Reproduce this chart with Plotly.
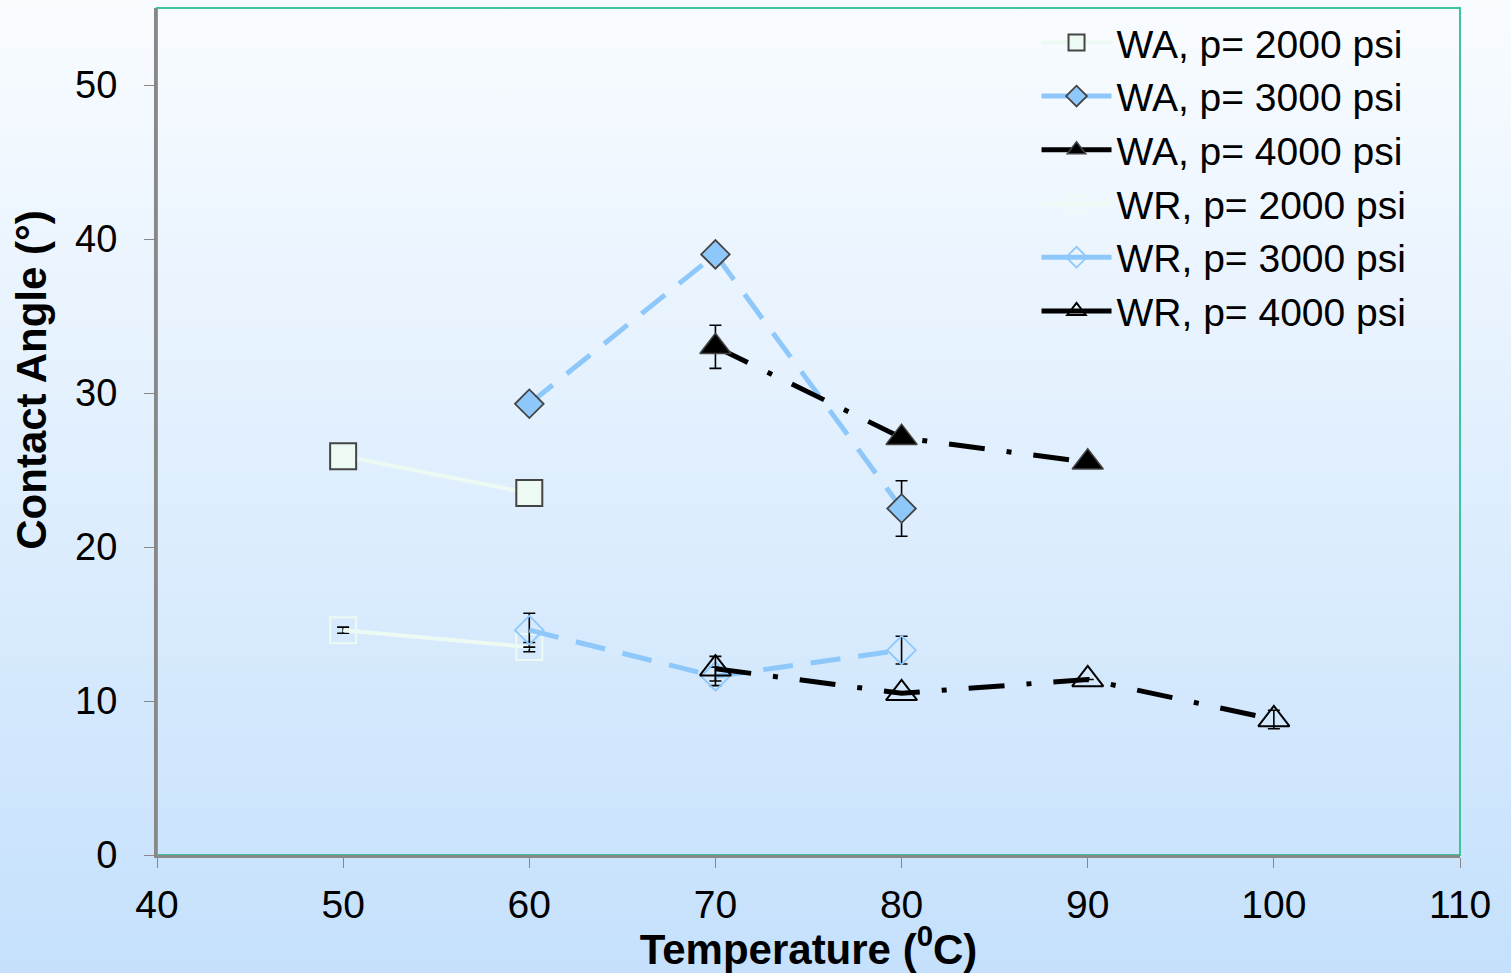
import base64

import plotly.graph_objects as go

# temperatures (degC) and contact angles (deg)
wa_2000_t = [50, 60]
wa_2000_y = [25.9, 23.5]
wa_2000_err = [0.0, 0.0]

wa_3000_t = [60, 70, 80]
wa_3000_y = [29.3, 39.0, 22.5]
wa_3000_err = [0.0, 0.0, 1.8]

wa_4000_t = [70, 80, 90]
wa_4000_y = [33.0, 27.1, 25.5]
wa_4000_err = [1.4, 0.0, 0.0]

wr_2000_t = [50, 60]
wr_2000_y = [14.6, 13.5]
wr_2000_err = [0.2, 0.3]

wr_3000_t = [60, 70, 80]
wr_3000_y = [14.6, 11.6, 13.3]
wr_3000_err = [1.1, 0.6, 0.9]

wr_4000_t = [70, 80, 90, 100]
wr_4000_y = [12.1, 10.5, 11.4, 8.8]
wr_4000_err = [0.8, 0.0, 0.0, 0.6]

x_ticks = [40, 50, 60, 70, 80, 90, 100, 110]
y_ticks = [0, 10, 20, 30, 40, 50]

PALE = "#ecfaf3"
BLUE = "#8ec8fb"
DASH_BLUE = "30px,18px"
DASH_DOT = "36px,22px,5px,22px"

# vertical gradient background as an inline svg
svg = (
    '<svg xmlns="http://www.w3.org/2000/svg" width="10" height="100" preserveAspectRatio="none">'
    '<defs><linearGradient id="g" x1="0" y1="0" x2="0" y2="1">'
    '<stop offset="0" stop-color="#fbfdff"/><stop offset="1" stop-color="#c2dffc"/>'
    '</linearGradient></defs><rect width="10" height="100" fill="url(#g)"/></svg>'
)
bg_src = "data:image/svg+xml;base64," + base64.b64encode(svg.encode()).decode()

fig = go.Figure()


def add_series(name, t, y, err, color, width, dash, marker):
    fig.add_trace(
        go.Scatter(
            x=t,
            y=y,
            name=name,
            mode="lines+markers",
            line=dict(color=color, width=width, dash=dash),
            marker=marker,
            error_y=dict(type="data", array=err, color="black", thickness=1.6, width=6),
            showlegend=False,
        )
    )
    # legend entry drawn with a solid line sample, like the original
    fig.add_trace(
        go.Scatter(
            x=[None],
            y=[None],
            name=name,
            mode="lines+markers",
            line=dict(color=color, width=width),
            marker=marker,
        )
    )


add_series(
    "WA, p= 2000 psi", wa_2000_t, wa_2000_y, wa_2000_err, PALE, 4, "solid",
    dict(symbol="square", size=26, color=PALE, line=dict(color="#444444", width=2)),
)
add_series(
    "WA, p= 3000 psi", wa_3000_t, wa_3000_y, wa_3000_err, BLUE, 5, DASH_BLUE,
    dict(symbol="diamond", size=22, color=BLUE, line=dict(color="#444444", width=1.8)),
)
add_series(
    "WA, p= 4000 psi", wa_4000_t, wa_4000_y, wa_4000_err, "black", 5, DASH_DOT,
    dict(symbol="triangle-up", size=27, color="black", line=dict(color="#444444", width=1.5)),
)
add_series(
    "WR, p= 2000 psi", wr_2000_t, wr_2000_y, wr_2000_err, PALE, 4, "solid",
    dict(symbol="square-open", size=26, color=PALE, line=dict(width=2)),
)
add_series(
    "WR, p= 3000 psi", wr_3000_t, wr_3000_y, wr_3000_err, BLUE, 5, DASH_BLUE,
    dict(symbol="diamond-open", size=22, color=BLUE, line=dict(width=1.8)),
)
add_series(
    "WR, p= 4000 psi", wr_4000_t, wr_4000_y, wr_4000_err, "black", 5, DASH_DOT,
    dict(symbol="triangle-up-open", size=27, color="black", line=dict(width=2)),
)

fig.update_layout(
    width=1511,
    height=973,
    margin=dict(l=157, r=51, t=8, b=118),
    paper_bgcolor="rgba(0,0,0,0)",
    plot_bgcolor="rgba(0,0,0,0)",
    font=dict(family="Liberation Sans, Arial, sans-serif", color="black"),
    showlegend=True,
    legend=dict(
        x=0.675,
        y=0.997,
        xanchor="left",
        yanchor="top",
        bgcolor="rgba(0,0,0,0)",
        font=dict(size=39),
        itemwidth=70,
        tracegroupgap=0,
    ),
    images=[
        dict(
            source=bg_src,
            xref="paper",
            yref="paper",
            x=-0.2,
            y=1.05,
            sizex=1.3,
            sizey=1.25,
            sizing="stretch",
            xanchor="left",
            yanchor="top",
            layer="below",
        )
    ],
    shapes=[
        dict(
            type="rect",
            xref="paper",
            yref="paper",
            x0=0,
            x1=1,
            y0=0,
            y1=1,
            line=dict(color="#3cc49c", width=2),
            layer="below",
        )
    ],
    annotations=[
        # y title sits a bit above the axis middle in the original
        dict(
            text="<b>Contact Angle (°)</b>",
            xref="paper",
            yref="paper",
            x=-0.096,
            y=0.561,
            xanchor="center",
            yanchor="middle",
            textangle=-90,
            showarrow=False,
            font=dict(size=42),
        )
    ],
)

fig.update_xaxes(
    range=[40, 110],
    tickvals=x_ticks,
    ticks="outside",
    ticklen=10,
    tickcolor="#888888",
    showline=True,
    linecolor="#888888",
    linewidth=3,
    showgrid=False,
    zeroline=False,
    tickfont=dict(size=39),
    ticklabelstandoff=3,
    title=dict(text="<b>Temperature (<sup>0</sup>C)</b>", font=dict(size=42), standoff=2),
)
fig.update_yaxes(
    range=[0, 55],
    tickvals=y_ticks,
    ticks="outside",
    ticklen=10,
    tickcolor="#888888",
    showline=True,
    linecolor="#888888",
    linewidth=3,
    showgrid=False,
    zeroline=False,
    tickfont=dict(size=38),
    ticklabelstandoff=19,
)

fig.write_html(
    "out.html",
    config={"displayModeBar": False},
    post_script="document.body.style.margin='0px';",
)
